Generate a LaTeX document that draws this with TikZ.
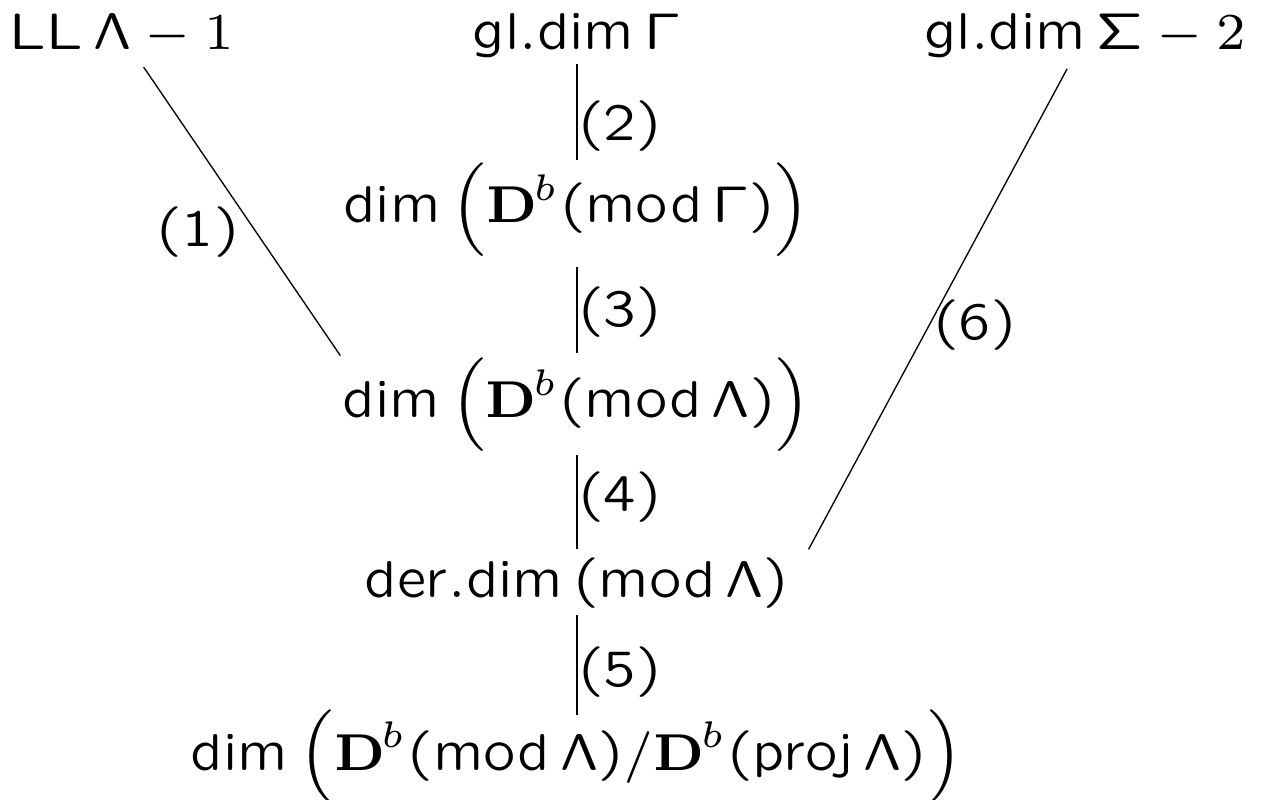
\documentclass[tikz,border=0pt]{standalone}
\usepackage{amsmath}
\DeclareMathAlphabet{\mathsq}{OT1}{lcmss}{m}{n}
\newcommand{\sfp}[1]{\mathsq{#1}}
\newcommand{\lp}{\mathopen{\mathsq{\mathchar"7028}}}
\newcommand{\rp}{\mathclose{\mathsq{\mathchar"7029}}}
\newcommand{\lbl}[1]{$\lp\sfp{#1}\rp$}
\newcommand{\Db}{\mathbf{D}^{\mkern-1.5mu b}}
\begin{document}
\begin{tikzpicture}[x=0.135pt,y=-0.135pt,
  every node/.style={inner sep=0pt, font=\scriptsize},
  conn/.style={line width=0.18pt},
  lab/.style={font=\scriptsize}]
\useasboundingbox (0,0) rectangle (1261,800);
\node[anchor=base] (ll) at (122,50) {$\sfp{LL}\,\sfp{\Lambda}-1$};
\node[anchor=base] (gl) at (577,50) {$\sfp{gl.dim}\,\sfp{\Gamma}$};
\node[anchor=base] (sg) at (1085,50) {$\sfp{gl.dim}\,\sfp{\Sigma}-2$};
\node[anchor=base] (dg) at (577,223) {$\sfp{dim}\,\Bigl(\Db\lp\sfp{mod}\,\sfp{\Gamma}\rp\Bigr)$};
\node[anchor=base] (dl) at (577,418) {$\sfp{dim}\,\Bigl(\Db\lp\sfp{mod}\,\sfp{\Lambda}\rp\Bigr)$};
\node[anchor=base] (der) at (577,597) {$\sfp{der.dim}\,\lp\sfp{mod}\,\sfp{\Lambda}\rp$};
\node[anchor=base] (q) at (577,770) {$\sfp{dim}\,\Bigl(\Db\lp\sfp{mod}\,\sfp{\Lambda}\rp/\Db\lp\sfp{proj}\,\sfp{\Lambda}\rp\Bigr)$};
\draw[conn, shorten <=0.7pt, shorten >=0.25pt] (gl.south) -- (dg.north);
\draw[conn, shorten <=1.2pt, shorten >=0.5pt] (dg.south) -- (dl.north);
\draw[conn, shorten <=0.3pt, shorten >=0.9pt] (dl.south) -- (der.north);
\draw[conn, shorten <=0.8pt, shorten >=-0.8pt] (der.south) -- (q.north);
\draw[conn, shorten <=5.2pt, shorten >=0.2pt] (ll.center) -- (dl.north west);
\draw[conn, shorten <=5.1pt, shorten >=5.1pt] (sg.center) -- (der.east);
\node[lab] (l1) at (198,232) {\lbl{1}};
\node[lab] (l2) at (620,126) {\lbl{2}};
\node[lab] (l3) at (620,312) {\lbl{3}};
\node[lab] (l4) at (620,497) {\lbl{4}};
\node[lab] (l5) at (620,672) {\lbl{5}};
\node[lab] (l6) at (975,325) {\lbl{6}};
\end{tikzpicture}
\end{document}
